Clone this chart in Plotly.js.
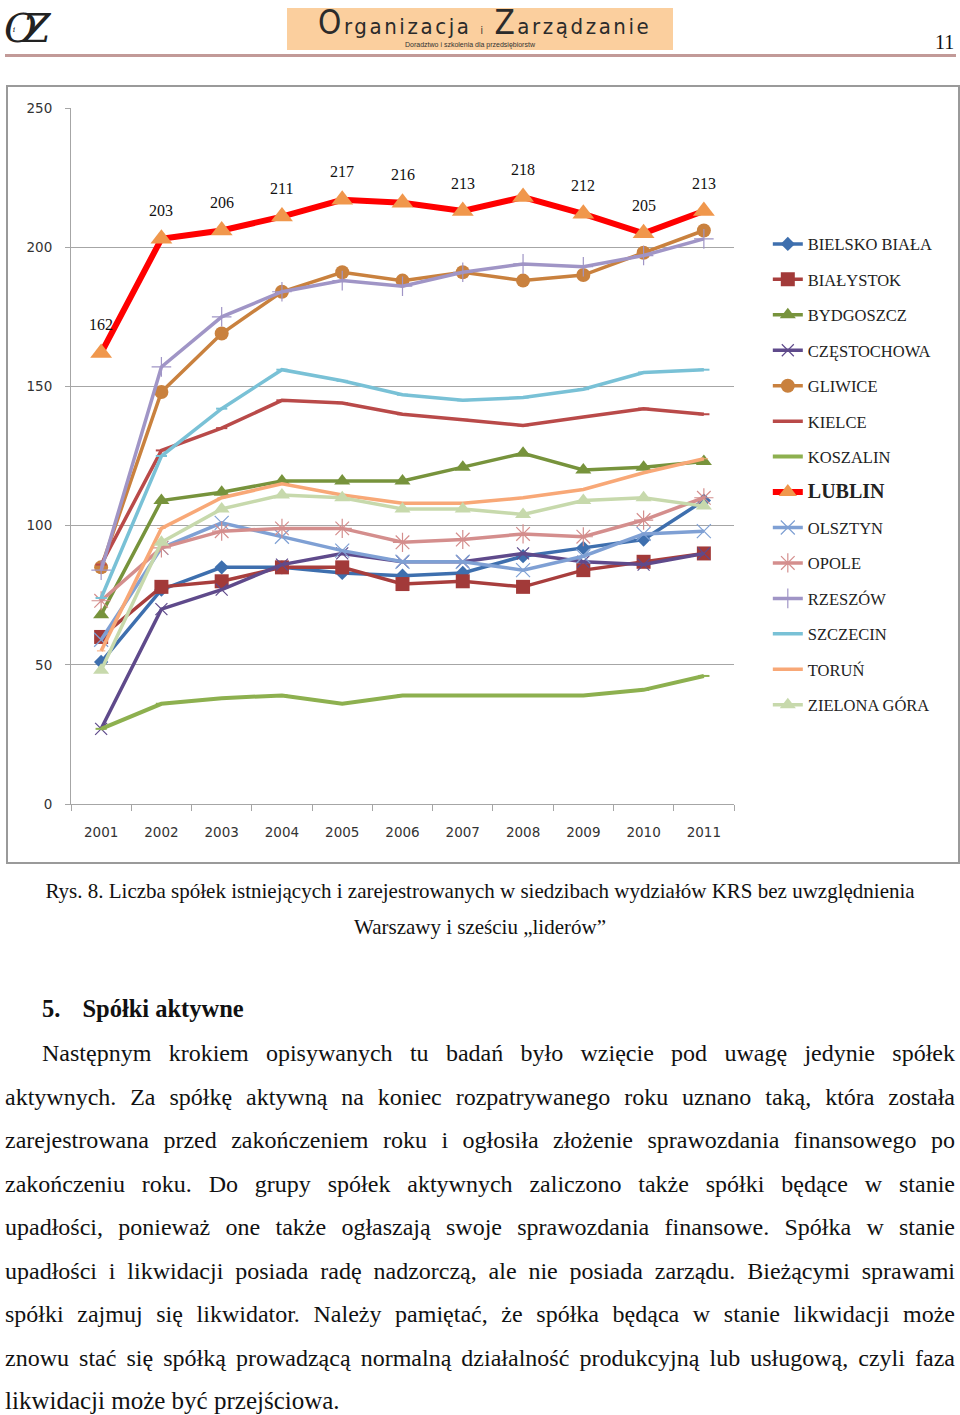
<!DOCTYPE html>
<html><head><meta charset="utf-8">
<script src="https://cdn.plot.ly/plotly-3.0.1.min.js"></script>
<style>
html,body{margin:0;padding:0;background:#fff;}
body{width:960px;height:1415px;position:relative;overflow:hidden;font-family:"Liberation Serif","Times New Roman",serif;color:#111;}
.abs{position:absolute;}
#chartbox{position:absolute;left:6px;top:85px;width:950px;height:775px;border:2px solid #9a9a9a;}
#chart{position:absolute;left:0;top:0;width:950px;height:775px;}
.pl{position:absolute;left:5px;width:950px;font-size:24px;line-height:28px;text-align:justify;text-align-last:justify;white-space:nowrap;}
.cap{position:absolute;left:0;width:960px;text-align:center;font-size:21px;line-height:24px;white-space:nowrap;}
</style></head><body>

<!-- header -->
<div class="abs" style="left:4px;top:6px;font-size:40px;line-height:44px;font-style:italic;font-family:'DejaVu Serif',serif;color:#222;letter-spacing:-14px;">O<span style="font-size:8px;position:relative;top:-10px;left:-10px;">i</span>Z</div>
<div class="abs" style="left:287px;top:8px;width:386px;height:42px;background:#fbcf9e;"></div>
<div class="abs" style="left:318px;top:6px;height:34px;line-height:34px;font-family:'DejaVu Sans Condensed','DejaVu Sans',sans-serif;font-size:22px;color:#2b2b2b;white-space:nowrap;letter-spacing:2.6px;"><span style="font-size:33px;">O</span>rganizacja <span style="font-size:10px;">i</span> <span style="font-size:33px;">Z</span>arządzanie</div>
<div class="abs" style="left:405px;top:41px;height:8px;line-height:8px;font-family:'Liberation Sans',Arial,sans-serif;font-size:7px;color:#333;white-space:nowrap;">Doradztwo i szkolenia dla przedsiębiorstw</div>
<div class="abs" style="left:935px;top:31px;font-size:20px;color:#111;">11</div>
<div class="abs" style="left:5px;top:54px;width:951px;height:3px;background:#c29a98;"></div>

<div id="chartbox"><div id="chart"></div></div>

<div class="cap" style="top:879px;">Rys. 8. Liczba spółek istniejących i zarejestrowanych w siedzibach wydziałów KRS bez uwzględnienia</div>
<div class="cap" style="top:915px;">Warszawy i sześciu „liderów”</div>

<div class="abs" style="left:42px;top:995px;font-size:24.5px;font-weight:bold;white-space:nowrap;">5.<span style="margin-left:22px;">Spółki aktywne</span></div>

<div class="pl" style="left:42px;width:913px;top:1039px;">Następnym krokiem opisywanych tu badań było wzięcie pod uwagę jedynie spółek</div>
<div class="pl" style="top:1083px;">aktywnych. Za spółkę aktywną na koniec rozpatrywanego roku uznano taką, która została</div>
<div class="pl" style="top:1126px;">zarejestrowana przed zakończeniem roku i ogłosiła złożenie sprawozdania finansowego po</div>
<div class="pl" style="top:1170px;">zakończeniu roku. Do grupy spółek aktywnych zaliczono także spółki będące w stanie</div>
<div class="pl" style="top:1213px;">upadłości, ponieważ one także ogłaszają swoje sprawozdania finansowe. Spółka w stanie</div>
<div class="pl" style="top:1257px;">upadłości i likwidacji posiada radę nadzorczą, ale nie posiada zarządu. Bieżącymi sprawami</div>
<div class="pl" style="top:1300px;">spółki zajmuj się likwidator. Należy pamiętać, że spółka będąca w stanie likwidacji może</div>
<div class="pl" style="top:1344px;">znowu stać się spółką prowadzącą normalną działalność produkcyjną lub usługową, czyli faza</div>
<div class="pl" style="top:1387px;text-align:left;text-align-last:left;font-size:25px;">likwidacji może być przejściowa.</div>

<script>
const years = ['2001','2002','2003','2004','2005','2006','2007','2008','2009','2010','2011'];
const bielskoBiala = [51, 77, 85, 85, 83, 82, 83, 89, 92, 95, 109];
const bialystok    = [60, 78, 80, 85, 85, 79, 80, 78, 84, 87, 90];
const bydgoszcz    = [68, 109, 112, 116, 116, 116, 121, 126, 120, 121, 123];
const czestochowa  = [27, 70, 77, 86, 90, 87, 87, 90, 87, 86, 90];
const gliwice      = [85, 148, 169, 184, 191, 188, 191, 188, 190, 198, 206];
const kielce       = [86, 127, 135, 145, 144, 140, 138, 136, 139, 142, 140];
const koszalin     = [27, 36, 38, 39, 36, 39, 39, 39, 39, 41, 46];
const lublin       = [162, 203, 206, 211, 217, 216, 213, 218, 212, 205, 213];
const olsztyn      = [59, 92, 101, 96, 91, 87, 87, 84, 89, 97, 98];
const opole        = [73, 92, 98, 99, 99, 94, 95, 97, 96, 102, 110];
const rzeszow      = [84, 157, 175, 184, 188, 186, 191, 194, 193, 197, 203];
const szczecin     = [74, 125, 142, 156, 152, 147, 145, 146, 149, 155, 156];
const torun        = [55, 99, 110, 115, 111, 108, 108, 110, 113, 119, 124];
const zielonaGora  = [48, 94, 106, 111, 110, 106, 106, 104, 109, 110, 107];

const seriesNames = ['BIELSKO BIAŁA','BIAŁYSTOK','BYDGOSZCZ','CZĘSTOCHOWA','GLIWICE','KIELCE','KOSZALIN','LUBLIN','OLSZTYN','OPOLE','RZESZÓW','SZCZECIN','TORUŃ','ZIELONA GÓRA'];
const seriesValues = [bielskoBiala, bialystok, bydgoszcz, czestochowa, gliwice, kielce, koszalin, lublin, olsztyn, opole, rzeszow, szczecin, torun, zielonaGora];

const styles = [
  {c:'#3e6fae', w:3.5, m:{symbol:'diamond', size:11, color:'#3e6fae'}},
  {c:'#a83e3d', w:3.5, m:{symbol:'square', size:14, color:'#a23a39'}},
  {c:'#77933c', w:3.5, m:{symbol:'triangle-up', size:14, color:'#77933c'}},
  {c:'#5f4a8b', w:3.5, m:{symbol:'x-thin-open', size:12, color:'#5f4a8b', line:{width:1.2,color:'#6b5a90'}}},
  {c:'#c9813e', w:3.5, m:{symbol:'circle', size:14, color:'#c9813e'}},
  {c:'#b94a49', w:3.5, m:{symbol:'line-ew-open', size:8, line:{width:2,color:'#b94a49'}}},
  {c:'#8db04f', w:4, m:{symbol:'line-ew-open', size:8, line:{width:2,color:'#8db04f'}}},
  {c:'#ff0000', w:6, m:{symbol:'triangle-up', size:19, color:'#f0974c'}},
  {c:'#7fa0d4', w:3.5, m:{symbol:'x-thin-open', size:14, line:{width:1.2,color:'#8aa4d6'}}},
  {c:'#d48e8d', w:3.5, m:{symbol:'asterisk-open', size:16, line:{width:1.2,color:'#d08a8a'}}},
  {c:'#a095c6', w:3.5, m:{symbol:'cross-thin-open', size:14, line:{width:1.2,color:'#9a8fc2'}}},
  {c:'#79c1d6', w:3.5, m:{symbol:'line-ew-open', size:8, line:{width:2,color:'#6ab7cd'}}},
  {c:'#f8a877', w:3.5, m:{symbol:'line-ew-open', size:6, line:{width:1,color:'#f8a877'}}},
  {c:'#c7d9ac', w:3.5, m:{symbol:'triangle-up', size:14, color:'#c7d9ac'}}
];

const traces = seriesNames.map((n, i) => ({
  type:'scatter', mode:'lines+markers',
  x: years, y: seriesValues[i],
  name: n === 'LUBLIN' ? '<b><span style="font-size:20px">LUBLIN</span></b>' : n,
  legendgroup: 'g' + i,
  line: {color: styles[i].c, width: styles[i].w},
  marker: styles[i].m,
  cliponaxis: false
}));
// draw LUBLIN last so it is on top
const order = [0,1,2,3,4,5,6,8,9,10,11,12,13,7];
const data = order.map(i => Object.assign({}, traces[i], {legendrank: i+1}));

// value labels above the LUBLIN series (x given as category index)
const annotations = lublin.map((v, i) => ({
  x: i, y: v, xref:'x', yref:'y', text: String(v), showarrow:false, yshift:28,
  font:{family:'Liberation Serif, Times New Roman, serif', size:16, color:'#111'}
}));

const layout = {
  width:950, height:775,
  margin:{l:63, r:224, t:21, b:58},
  paper_bgcolor:'#fff', plot_bgcolor:'#fff',
  showlegend:true,
  legend:{x:1.051, xanchor:'left', y:0.8295, yanchor:'top', traceorder:'grouped', tracegroupgap:11,
          font:{family:'Liberation Serif, Times New Roman, serif', size:16.5, color:'#222'}, bgcolor:'rgba(0,0,0,0)'},
  xaxis:{type:'category', range:[-0.5,10.5], showline:true, linecolor:'#a6a6a6', linewidth:1,
         ticks:'outside', tickson:'boundaries', ticklen:6, tickcolor:'#a6a6a6', showgrid:false,
         tickfont:{family:'DejaVu Sans, sans-serif', size:13.5, color:'#333'}, ticklabelstandoff:16, fixedrange:true},
  yaxis:{range:[0,250], dtick:50, showline:true, linecolor:'#a6a6a6', linewidth:1, showgrid:true, gridcolor:'#a6a6a6', gridwidth:1,
         zeroline:false, ticks:'outside', ticklen:5, tickcolor:'#a6a6a6',
         tickfont:{family:'DejaVu Sans, sans-serif', size:13.5, color:'#333'}, ticklabelstandoff:10, fixedrange:true},
  annotations: annotations
};

Plotly.newPlot('chart', data, layout, {displayModeBar:false, staticPlot:true});
</script>
</body></html>
